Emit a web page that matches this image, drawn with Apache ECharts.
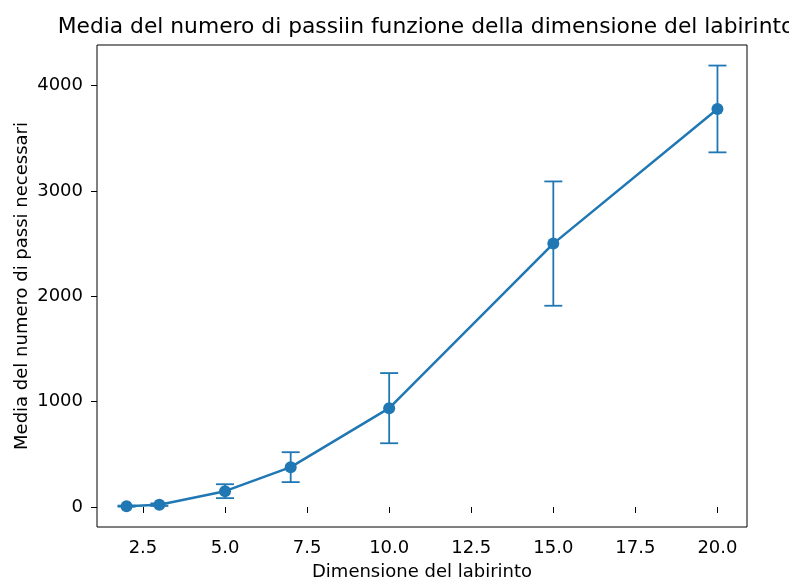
<!DOCTYPE html>
<html>
<head>
<meta charset="utf-8">
<script src="https://cdn.jsdelivr.net/npm/echarts@6/dist/echarts.min.js"></script>
<style>html,body{margin:0;padding:0;background:#fff}#c{width:789px;height:582px}</style>
</head>
<body>
<div id="c"></div>
<script>
// Data
const sizes = [2, 3, 5, 7, 10, 15, 20];
const meanSteps = [8, 22, 150, 378, 938, 2500, 3778];
const stdSteps = [5, 12, 66, 142, 333, 590, 412];
const xTicks = [2.5, 5.0, 7.5, 10.0, 12.5, 15.0, 17.5, 20.0];
const yTicks = [0, 1000, 2000, 3000, 4000];

const titleText = 'Media del numero di passiin funzione della dimensione del labirinto';
const xLabel = 'Dimensione del labirinto';
const yLabel = 'Media del numero di passi necessari';

const color = '#1f77b4';
const font = 'DejaVu Sans';
const fs = 18;

const lineData = sizes.map((s, i) => [s, meanSteps[i]]);
const errData = sizes.map((s, i) => [s, meanSteps[i] - stdSteps[i], meanSteps[i] + stdSteps[i]]);

const chart = echarts.init(document.getElementById('c'), null, {renderer: 'canvas'});
chart.setOption({
  animation: false,
  backgroundColor: '#fff',
  title: {
    text: titleText,
    left: 421, top: 11, textAlign: 'center',
    textStyle: {fontFamily: font, fontSize: 21.8, fontWeight: 'normal', color: '#000'}
  },
  grid: {left: 97, right: 42, top: 45, bottom: 55, containLabel: false, outerBoundsMode: 'none',
    show: true, borderColor: '#000', borderWidth: 1, backgroundColor: 'transparent'},
  xAxis: {
    type: 'value', min: 1.1, max: 20.9,
    name: xLabel, nameLocation: 'middle', nameGap: 36, nameMoveOverlap: false,
    nameTextStyle: {fontFamily: font, fontSize: fs, color: '#000'},
    axisLine: {show: false},
    splitLine: {show: false},
    axisTick: {show: true, inside: false, length: 6, lineStyle: {color: '#000'}, customValues: xTicks},
    axisLabel: {fontFamily: font, fontSize: fs, color: '#000', margin: 12, customValues: xTicks,
      formatter: v => Number(v).toFixed(1)}
  },
  yAxis: {
    type: 'value', min: -190, max: 4385,
    name: yLabel, nameLocation: 'middle', nameGap: 66, nameRotate: 90, nameMoveOverlap: false,
    nameTextStyle: {fontFamily: font, fontSize: fs, color: '#000'},
    axisLine: {show: false},
    splitLine: {show: false},
    axisTick: {show: true, inside: false, length: 6, lineStyle: {color: '#000'}, customValues: yTicks},
    axisLabel: {fontFamily: font, fontSize: fs, color: '#000', margin: 14, customValues: yTicks,
      formatter: v => String(Math.round(v))}
  },
  series: [
    {
      type: 'custom',
      data: errData,
      encode: {x: 0, y: [1, 2]},
      z: 2,
      renderItem: function (params, api) {
        const x = api.value(0);
        const lo = api.coord([x, api.value(1)]);
        const hi = api.coord([x, api.value(2)]);
        const hw = 9;
        const st = {stroke: color, lineWidth: 1.8};
        return {
          type: 'group',
          children: [
            {type: 'line', shape: {x1: lo[0], y1: lo[1], x2: hi[0], y2: hi[1]}, style: st},
            {type: 'line', shape: {x1: lo[0] - hw, y1: lo[1], x2: lo[0] + hw, y2: lo[1]}, style: st},
            {type: 'line', shape: {x1: hi[0] - hw, y1: hi[1], x2: hi[0] + hw, y2: hi[1]}, style: st}
          ]
        };
      }
    },
    {
      type: 'line',
      data: lineData,
      z: 3,
      symbol: 'circle',
      symbolSize: 12,
      itemStyle: {color: color},
      lineStyle: {color: color, width: 2.5}
    }
  ]
});
</script>
</body>
</html>
